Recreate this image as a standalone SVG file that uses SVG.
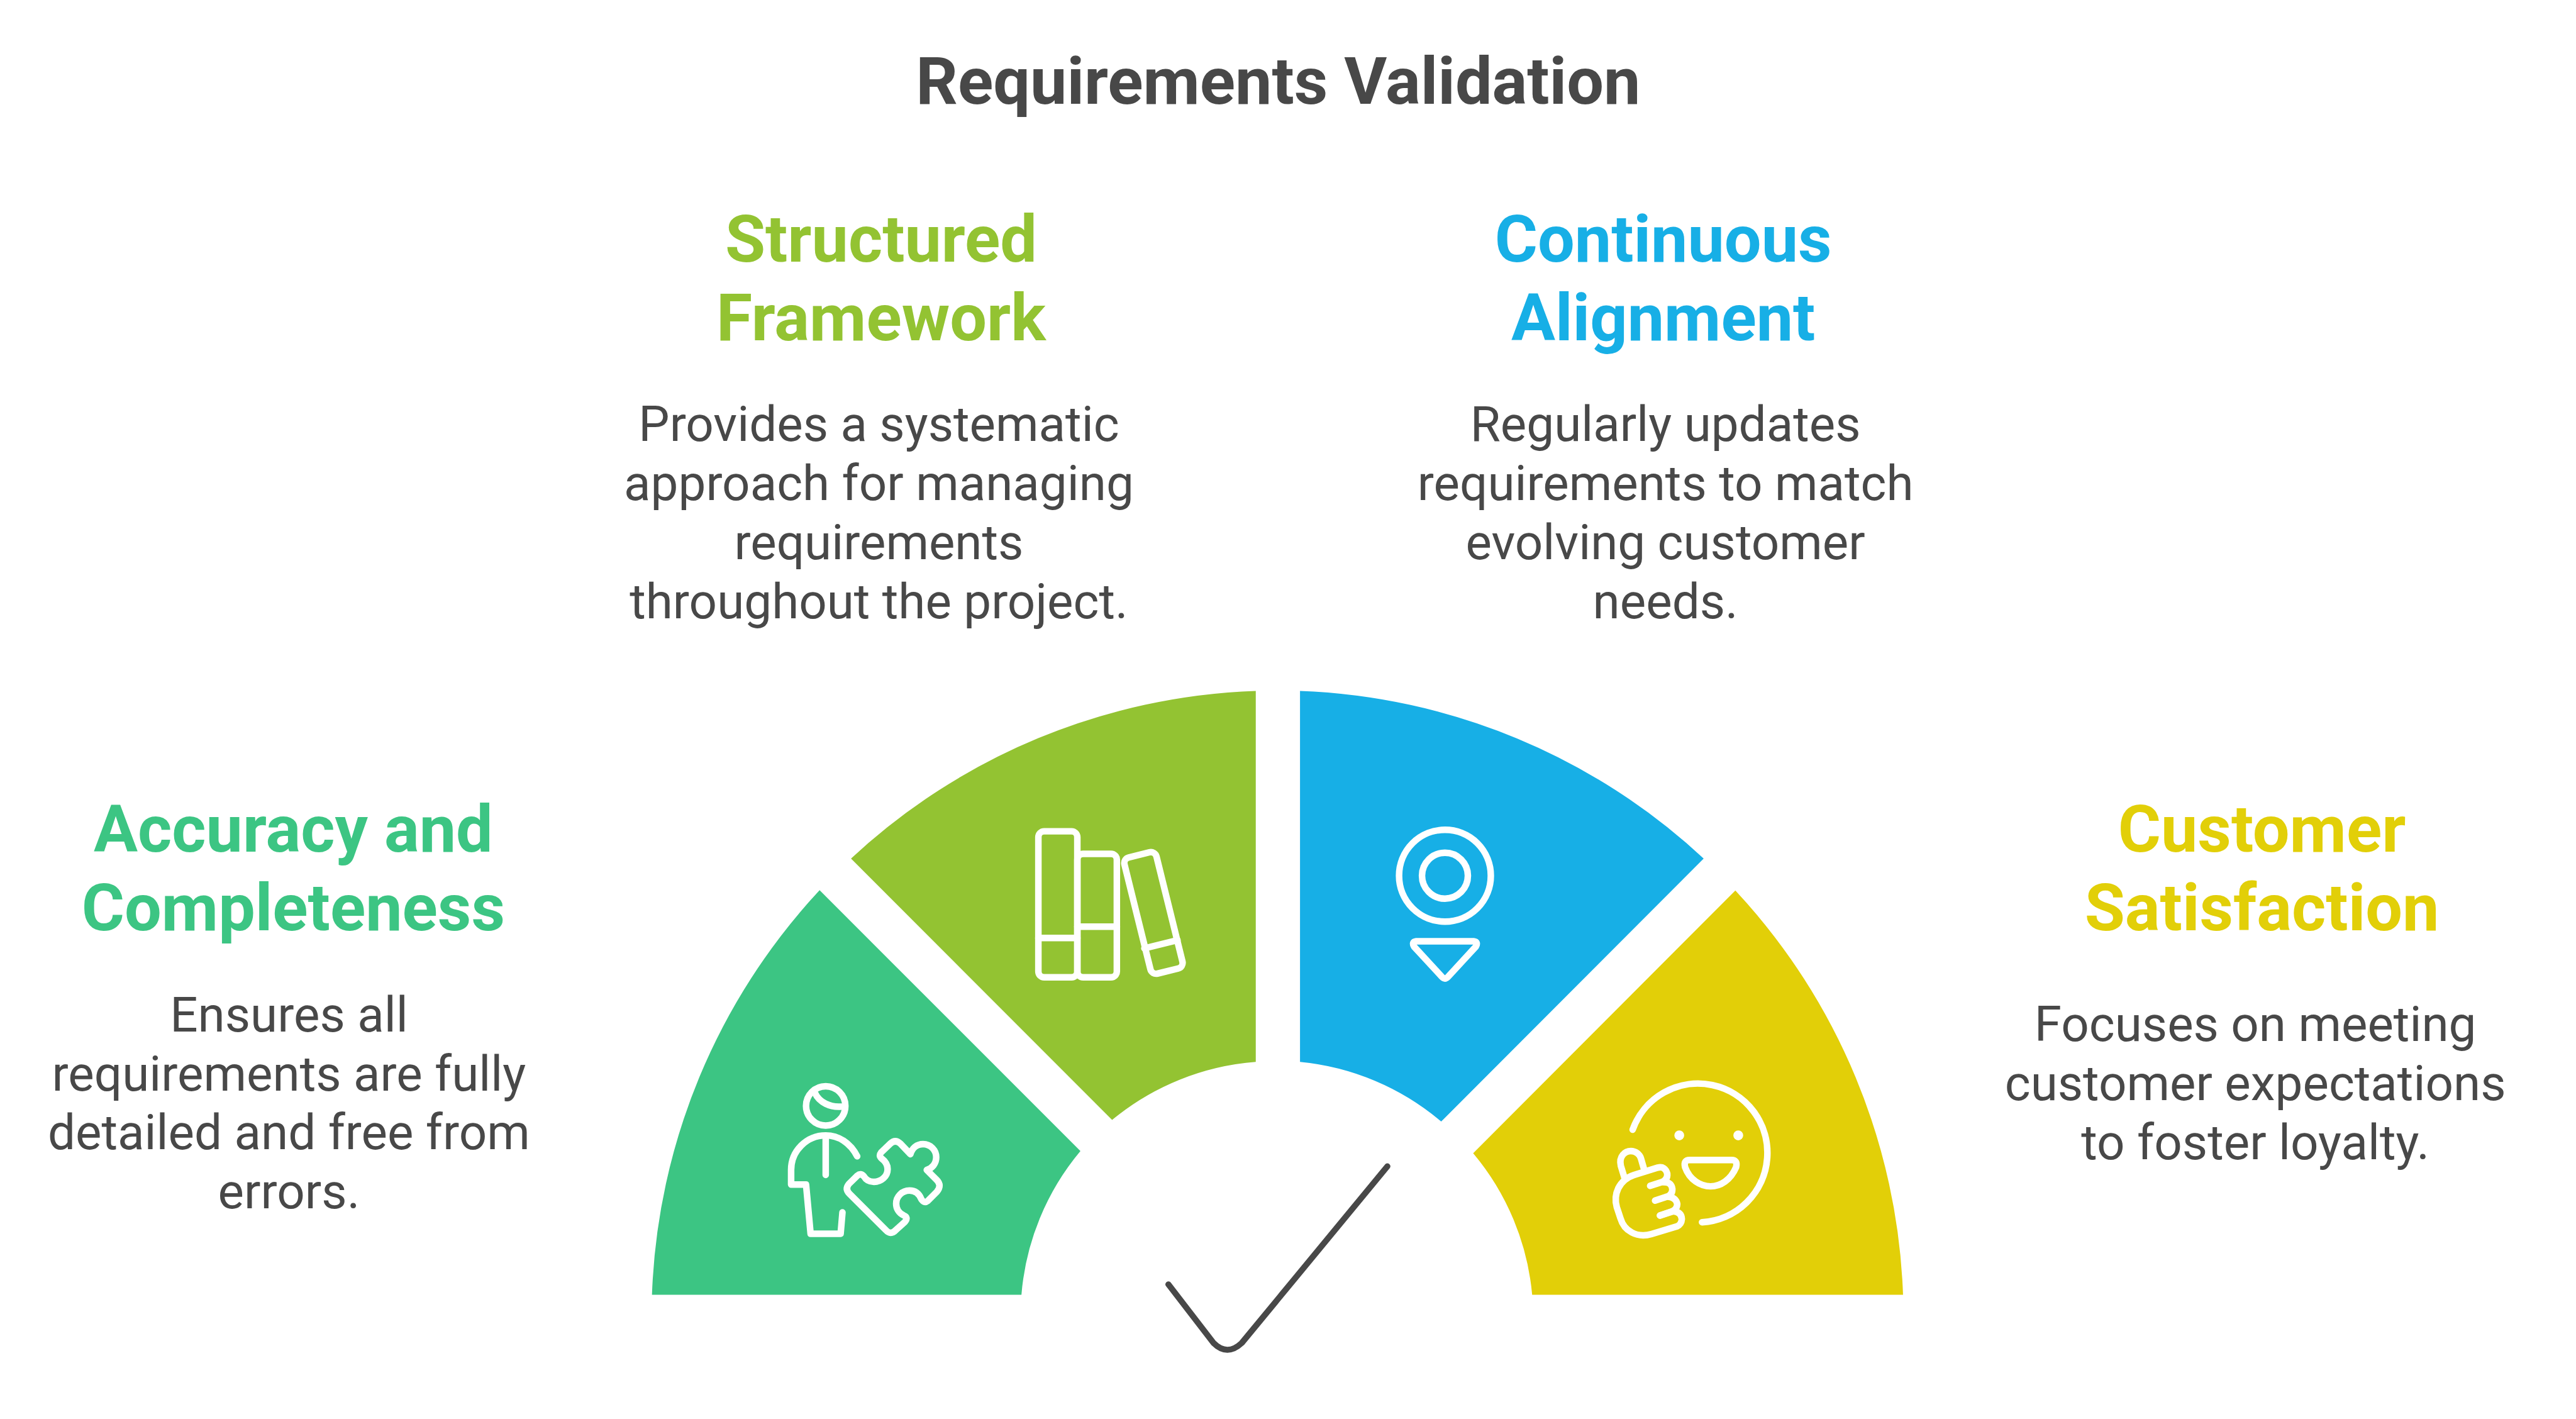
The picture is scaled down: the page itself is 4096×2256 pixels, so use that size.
<svg xmlns="http://www.w3.org/2000/svg" width="4096" height="2256" viewBox="0 0 4096 2256">
<style>
text{font-family:Roboto,"Liberation Sans",sans-serif;text-anchor:middle}
.t{font-size:120px;font-weight:700;fill:#484848}
.h{font-size:120px;font-weight:700}
.b{font-size:90px;fill:#484848}
.i{fill:none;stroke:#fff;stroke-width:36;stroke-linecap:round;stroke-linejoin:round}
</style>
<rect width="4096" height="2256" fill="#fff"/>
<g transform="scale(.86853)">
<text class="t" x="2340" y="189.5">Requirements Validation</text>
<g id="accuracy">
<path fill="#3CC583" d="M1193.6,2370A1146 1146 0 0 1 1500.5,1629.6L1978,2107A469 469 0 0 0 1870,2370Z"/>
<g transform="translate(1400 1950) scale(.33333)"><g class="i">
<circle cx="335" cy="223" r="108"/>
<path d="M275,150C300,205 360,232 422,227"/>
<path d="M508,500C470,425 405,385 335,385C230,385 145,470 145,575V655H227L252,925H417L427,808"/>
<path d="M335,400V602"/>
<path d="M465,705L665,905Q692,935 720,905L770,860Q790,835 765,825C735,812 722,785 722,760C722,720 755,688 795,688C825,688 848,705 860,735Q875,760 895,745L945,695Q975,660 945,630L890,575C920,566 942,540 942,505C942,465 910,433 870,433C835,433 810,455 800,488L745,430Q717,405 690,430L640,478Q625,497 640,510C660,525 675,545 675,570C675,610 640,640 600,640C575,640 555,628 545,610Q527,590 510,605L462,652Q440,680 465,705Z"/>
</g></g>
<text class="h" fill="#3CC583" x="537" y="1559">Accuracy and</text>
<text class="h" fill="#3CC583" x="537" y="1703">Completeness</text>
<text class="b" x="529" y="1888">Ensures all</text>
<text class="b" x="529" y="1996">requirements are fully</text>
<text class="b" x="529" y="2104">detailed and free from</text>
<text class="b" x="529" y="2212">errors.</text>
</g>
<g id="framework">
<path fill="#93C332" d="M1558,1571.6A1146 1146 0 0 1 2299,1264.8V1943.8A469 469 0 0 0 2036,2050Z"/>
<g transform="translate(1850 1480) scale(.33333)"><g class="i">
<rect x="153" y="125" width="214" height="802" rx="32"/>
<path d="M153,711H367"/>
<rect x="367" y="249" width="217" height="678" rx="32"/>
<path d="M367,649H584"/>
<rect x="-90.5" y="-328" width="181" height="657" rx="32" transform="translate(785 573) rotate(-13.9)"/>
<path d="M735,768L917,723"/>
</g></g>
<text class="h" fill="#93C332" x="1613" y="478.5">Structured</text>
<text class="h" fill="#93C332" x="1613" y="622.5">Framework</text>
<text class="b" x="1609" y="807.5">Provides a systematic</text>
<text class="b" x="1609" y="915.5">approach for managing</text>
<text class="b" x="1609" y="1023.5">requirements</text>
<text class="b" x="1609" y="1131.5">throughout the project.</text>
</g>
<g id="alignment">
<path fill="#17AFE6" d="M2380,1264.8A1146 1146 0 0 1 3119,1571.6L2638.5,2053A469 469 0 0 0 2380,1943.8Z"/>
<g transform="translate(2520 1480) scale(.33333)"><g class="i">
<circle cx="376" cy="369" r="252"/>
<circle cx="376" cy="369" r="126"/>
<path d="M218,729H534Q560,732 546,758L392,925Q376,942 360,925L206,758Q192,732 218,729Z"/>
</g></g>
<text class="h" fill="#17AFE6" x="3045" y="478.5">Continuous</text>
<text class="h" fill="#17AFE6" x="3045" y="622.5">Alignment</text>
<text class="b" x="3049" y="807.5">Regularly updates</text>
<text class="b" x="3049" y="915.5">requirements to match</text>
<text class="b" x="3049" y="1023.5">evolving customer</text>
<text class="b" x="3049" y="1131.5">needs.</text>
</g>
<g id="satisfaction">
<path fill="#E2CF08" d="M3177,1630A1146 1146 0 0 1 3484,2370L2805,2370A469 469 0 0 0 2697,2111Z"/>
<g transform="translate(2920 1960) scale(.33333)"><g class="i">
<path d="M207,324A381 381 0 1 1 588,832"/>
<path d="M520,490H750Q785,490 775,530C745,600 690,635 635,635C580,635 520,600 495,530Q485,490 520,490Z"/>
<path d="M162,588L142,522C130,470 165,441 197,441C225,441 245,460 252,480L268,535"/>
<path d="M303,632L365,612Q400,600 397,565Q385,522 345,532L215,572C130,600 100,680 120,750L140,810C160,880 230,920 310,897L450,855Q475,845 477,815Q475,775 430,772L357,795"/>
<path d="M330,713L390,693Q425,685 425,650Q420,610 375,612"/>
<path d="M357,795L415,775Q450,765 452,732Q445,695 400,692"/>
</g><circle cx="463" cy="355" r="27" fill="#fff"/><circle cx="787" cy="355" r="27" fill="#fff"/></g>
<text class="h" fill="#E2CF08" x="4141" y="1559">Customer</text>
<text class="h" fill="#E2CF08" x="4141" y="1703">Satisfaction</text>
<text class="b" x="4129" y="1906">Focuses on meeting</text>
<text class="b" x="4129" y="2014">customer expectations</text>
<text class="b" x="4129" y="2122">to foster loyalty.</text>
</g>
<g id="connectors">
<path transform="translate(2100 2100) scale(.33333)" fill="none" stroke="#484848" stroke-width="33" stroke-linecap="round" d="M117,753L365,1075Q440,1150 520,1075L1320,105"/>
</g>
</g>
</svg>
